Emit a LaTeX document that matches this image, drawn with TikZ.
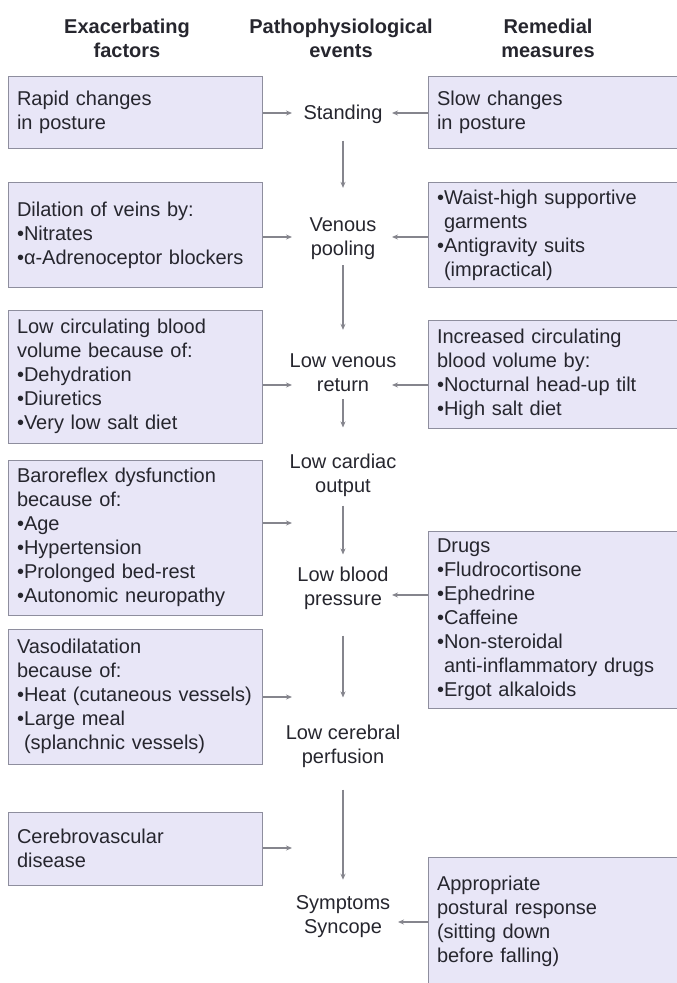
\documentclass[tikz,border=0pt]{standalone}
\usepackage{fontspec}
\setmainfont{Liberation Sans}
\usetikzlibrary{arrows.meta}
\definecolor{boxfill}{HTML}{E8E6F7}
\definecolor{boxline}{HTML}{8E8E9E}
\definecolor{ink}{HTML}{26262E}
\definecolor{flowgray}{HTML}{85858D}
\newcommand{\bul}{\hphantom{•}}

\begin{document}
\begin{tikzpicture}[x=1pt, y=-1pt,
  every node/.style={font=\fontsize{20}{24}\selectfont, text=ink},
  head/.style={font=\fontsize{20}{24}\selectfont\bfseries, align=center},
  cause/.style={draw=boxline, fill=boxfill, line width=1pt, align=left, text width=236pt, inner xsep=9pt, inner ysep=0pt},
  remedy/.style={cause, text width=244pt},
  event/.style={align=center, inner sep=0pt},
  flow/.style={draw=flowgray, line width=1.2pt, -{Stealth[length=6pt, width=5pt]}}]
\useasboundingbox (0,0) rectangle (677,983);

% column headings
\node[head] (hexac) at (127,38) {Exacerbating\\factors};
\node[head] (hpath) at (341,38) {Pathophysiological\\events};
\node[head] (hrem) at (548,38) {Remedial\\measures};

% exacerbating factors
\node[cause, minimum height=72pt] (rapid) at (135,112) {Rapid changes\\in posture};
\node[cause, minimum height=105pt] (dilation) at (135,235) {Dilation of veins by:\\•Nitrates\\•α-Adrenoceptor blockers};
\node[cause, minimum height=133pt] (lowvol) at (135,376.5) {Low circulating blood\\volume because of:\\•Dehydration\\•Diuretics\\•Very low salt diet};
\node[cause, minimum height=155pt] (baro) at (135,537.5) {Baroreflex dysfunction\\because of:\\•Age\\•Hypertension\\•Prolonged bed-rest\\•Autonomic neuropathy};
\node[cause, minimum height=135pt] (vaso) at (135,696.5) {Vasodilatation\\because of:\\•Heat (cutaneous vessels)\\•Large meal\\\bul(splanchnic vessels)};
\node[cause, minimum height=73pt] (cerebro) at (135,848.5) {Cerebrovascular\\disease};

% remedial measures
\node[remedy, minimum height=72pt] (slow) at (559,112) {Slow changes\\in posture};
\node[remedy, minimum height=105pt] (garments) at (559,235) {•Waist-high supportive\\\bul garments\\•Antigravity suits\\\bul(impractical)};
\node[remedy, minimum height=108pt] (circvol) at (559,374) {Increased circulating\\blood volume by:\\•Nocturnal head-up tilt\\•High salt diet};
\node[remedy, minimum height=177pt] (drugs) at (559,620) {Drugs\\•Fludrocortisone\\•Ephedrine\\•Caffeine\\•Non-steroidal\\\bul anti-inflammatory drugs\\•Ergot alkaloids};
\node[remedy, minimum height=128pt] (posture) at (559,921) {Appropriate\\postural response\\(sitting down\\before falling)};

% pathophysiological events
\node[event] (standing) at (343,114) {Standing};
\node[event] (pooling) at (343,239) {Venous\\pooling};
\node[event] (venret) at (343,373) {Low venous\\return};
\node[event] (cardiac) at (343,475) {Low cardiac\\output};
\node[event] (bp) at (343,588) {Low blood\\pressure};
\node[event] (perfusion) at (343,746) {Low cerebral\\perfusion};
\node[event] (syncope) at (343,917) {Symptoms\\Syncope};

\draw[flow, shorten <=17pt, shorten >=30pt] (standing) -- (pooling);
\draw[flow, shorten <=5pt, shorten >=24pt] (pooling) -- (venret);
\draw[flow, shorten <=7pt, shorten >=26pt] (venret) -- (cardiac);
\draw[flow, shorten <=9pt, shorten >=12pt] (cardiac) -- (bp);
\draw[flow, shorten <=26pt, shorten >=27pt] (bp) -- (perfusion);
\draw[flow, shorten <=22pt, shorten >=16pt] (perfusion) -- (syncope);

% arrow tips
\coordinate (ra) at (292,113);
\coordinate (sl) at (392,113);
\coordinate (di) at (292,237);
\coordinate (ga) at (392,237);
\coordinate (lv) at (292,385);
\coordinate (ci) at (392,385);
\coordinate (ba) at (292,523);
\coordinate (dr) at (392,595);
\coordinate (va) at (292,697);
\coordinate (ce) at (292,848);
\coordinate (po) at (398,922);

\draw[flow] (rapid.east |- ra) -- (ra);
\draw[flow] (slow.west |- sl) -- (sl);
\draw[flow] (dilation.east |- di) -- (di);
\draw[flow] (garments.west |- ga) -- (ga);
\draw[flow] (lowvol.east |- lv) -- (lv);
\draw[flow] (circvol.west |- ci) -- (ci);
\draw[flow] (baro.east |- ba) -- (ba);
\draw[flow] (drugs.west |- dr) -- (dr);
\draw[flow] (vaso.east |- va) -- (va);
\draw[flow] (cerebro.east |- ce) -- (ce);
\draw[flow] (posture.west |- po) -- (po);
\end{tikzpicture}
\end{document}
